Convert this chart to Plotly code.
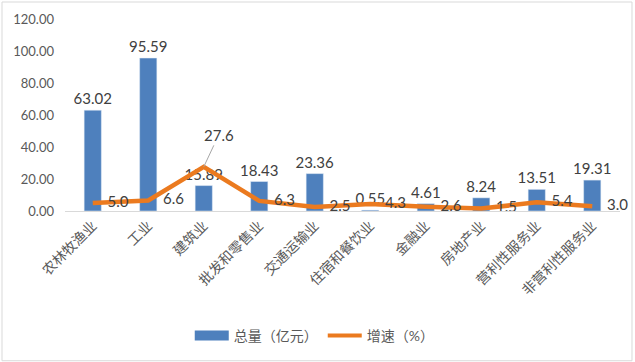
import plotly.graph_objects as go

categories = ["农林牧渔业", "工业", "建筑业", "批发和零售业", "交通运输业",
              "住宿和餐饮业", "金融业", "房地产业", "营利性服务业", "非营利性服务业"]
totals = [63.02, 95.59, 15.89, 18.43, 23.36, 0.55, 4.61, 8.24, 13.51, 19.31]
growth = [5.0, 6.6, 27.6, 6.3, 2.5, 4.3, 2.6, 1.5, 5.4, 3.0]
bar_name = "总量（亿元）"
line_name = "增速（%）"

BLUE = "#4E80BD"
ORANGE = "#EB7A1F"
FONT = "Lato, 'Noto Sans CJK SC', sans-serif"

peak = growth.index(max(growth))
line_text = ["" if i == peak else f"{v:.1f}" for i, v in enumerate(growth)]

fig = go.Figure()
fig.add_trace(go.Bar(
    x=categories, y=totals, name=bar_name, marker_color=BLUE, width=0.31,
    text=[f"{v:.2f}" for v in totals], textposition="outside",
    constraintext="none",
    textfont=dict(size=15, color="#404040", family=FONT),
    cliponaxis=False, showlegend=False,
))
fig.add_trace(go.Scatter(
    x=categories, y=growth, name=line_name, mode="lines+markers+text",
    line=dict(color=ORANGE, width=4.5),
    marker=dict(size=22, color="rgba(0,0,0,0)"),
    text=line_text, textposition="middle right",
    textfont=dict(size=15, color="#404040", family=FONT),
    cliponaxis=False, showlegend=False,
))
# legend entries
fig.add_trace(go.Scatter(x=[None], y=[None], mode="lines", name=bar_name,
                         line=dict(color=BLUE, width=10)))
fig.add_trace(go.Scatter(x=[None], y=[None], mode="lines", name=line_name,
                         line=dict(color=ORANGE, width=4)))

fig.add_annotation(
    x=categories[peak], y=growth[peak], text=f"{growth[peak]:.1f}",
    showarrow=True, arrowhead=0, arrowwidth=1, arrowcolor="#A6A6A6",
    ax=15, ay=-32, font=dict(size=15, color="#404040", family=FONT),
)

fig.add_shape(type="rect", xref="paper", yref="paper",
              x0=-0.1135, x1=1.0216, y0=-0.78, y1=1.0885,
              line=dict(color="#D9D9D9", width=1))

fig.update_layout(
    width=635, height=362,
    margin=dict(l=65, r=15, t=19, b=151, autoexpand=False),
    paper_bgcolor="white", plot_bgcolor="white",
    font=dict(family=FONT, color="#595959"),
    legend=dict(orientation="h", x=0.45, xanchor="center", y=-0.65, yanchor="middle",
                font=dict(size=14, color="#595959", family=FONT), itemwidth=34,
                traceorder="normal"),
    xaxis=dict(type="category", range=[-0.5, len(categories) - 0.5],
               showline=True, linecolor="#D9D9D9", linewidth=1,
               ticks="", tickangle=-45, showgrid=False, automargin=False,
               tickfont=dict(size=14, color="#595959", family=FONT)),
    yaxis=dict(range=[0, 120], dtick=20, tickformat=".2f", showgrid=False,
               zeroline=False, showline=False, ticks="", ticklabelstandoff=10,
               automargin=False,
               tickfont=dict(size=13, color="#595959", family=FONT)),
)

fig.write_html("out.html", config={"displayModeBar": False},
               post_script="document.body.style.margin='0';")
